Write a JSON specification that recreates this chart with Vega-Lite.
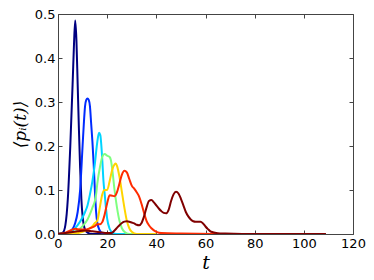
{
  "$schema": "https://vega.github.io/schema/vega-lite/v6.json",
  "autosize": {"type": "none"},
  "padding": {"left": 58, "top": 14, "right": 21, "bottom": 46},
  "width": 295,
  "height": 220,
  "config": {
    "view": {"stroke": "#444", "strokeWidth": 1},
    "axis": {"grid": false, "domain": false, "tickColor": "#444", "tickSize": -4, "labelFont": "DejaVu Sans", "labelFontSize": 13, "labelColor": "#000", "labelFlush": false, "labelOverlap": false}
  },
  "data": {"values": [
    {"s":1,"t":0,"p":0},{"s":1,"t":1,"p":0.001},{"s":1,"t":2,"p":0.003},{"s":1,"t":3,"p":0.02},{"s":1,"t":4,"p":0.08},{"s":1,"t":5,"p":0.2},{"s":1,"t":6,"p":0.35},{"s":1,"t":6.5,"p":0.43},{"s":1,"t":7,"p":0.485},{"s":1,"t":7.5,"p":0.44},{"s":1,"t":8,"p":0.34},{"s":1,"t":8.5,"p":0.24},{"s":1,"t":9,"p":0.15},{"s":1,"t":9.5,"p":0.08},{"s":1,"t":10,"p":0.04},{"s":1,"t":10.5,"p":0.02},{"s":1,"t":11,"p":0.01},{"s":1,"t":12,"p":0.003},{"s":1,"t":14,"p":0},{"s":1,"t":20,"p":0},
    {"s":2,"t":0,"p":0},{"s":2,"t":4,"p":0.003},{"s":2,"t":6,"p":0.012},{"s":2,"t":7,"p":0.025},{"s":2,"t":8,"p":0.05},{"s":2,"t":9,"p":0.1},{"s":2,"t":10,"p":0.2},{"s":2,"t":10.5,"p":0.25},{"s":2,"t":11,"p":0.29},{"s":2,"t":11.5,"p":0.305},{"s":2,"t":12,"p":0.308},{"s":2,"t":12.5,"p":0.305},{"s":2,"t":13,"p":0.29},{"s":2,"t":13.5,"p":0.25},{"s":2,"t":14,"p":0.21},{"s":2,"t":14.5,"p":0.16},{"s":2,"t":15,"p":0.1},{"s":2,"t":15.5,"p":0.05},{"s":2,"t":16,"p":0.025},{"s":2,"t":17,"p":0.008},{"s":2,"t":18,"p":0.002},{"s":2,"t":20,"p":0},{"s":2,"t":25,"p":0},
    {"s":3,"t":0,"p":0},{"s":3,"t":4,"p":0.002},{"s":3,"t":6,"p":0.008},{"s":3,"t":8,"p":0.02},{"s":3,"t":10,"p":0.038},{"s":3,"t":11,"p":0.05},{"s":3,"t":12,"p":0.065},{"s":3,"t":13,"p":0.09},{"s":3,"t":14,"p":0.12},{"s":3,"t":15,"p":0.16},{"s":3,"t":16,"p":0.21},{"s":3,"t":16.7,"p":0.23},{"s":3,"t":17.2,"p":0.225},{"s":3,"t":18,"p":0.17},{"s":3,"t":18.5,"p":0.12},{"s":3,"t":19,"p":0.09},{"s":3,"t":19.5,"p":0.06},{"s":3,"t":20,"p":0.035},{"s":3,"t":21,"p":0.012},{"s":3,"t":22,"p":0.004},{"s":3,"t":24,"p":0},{"s":3,"t":30,"p":0},
    {"s":4,"t":0,"p":0},{"s":4,"t":6,"p":0.003},{"s":4,"t":8,"p":0.008},{"s":4,"t":10,"p":0.018},{"s":4,"t":12,"p":0.033},{"s":4,"t":13,"p":0.045},{"s":4,"t":14,"p":0.06},{"s":4,"t":15,"p":0.075},{"s":4,"t":15.5,"p":0.09},{"s":4,"t":16,"p":0.115},{"s":4,"t":17,"p":0.15},{"s":4,"t":18,"p":0.175},{"s":4,"t":19,"p":0.182},{"s":4,"t":20,"p":0.178},{"s":4,"t":21,"p":0.175},{"s":4,"t":21.5,"p":0.168},{"s":4,"t":22,"p":0.15},{"s":4,"t":23,"p":0.1},{"s":4,"t":24,"p":0.06},{"s":4,"t":25,"p":0.03},{"s":4,"t":26,"p":0.013},{"s":4,"t":27,"p":0.005},{"s":4,"t":29,"p":0},{"s":4,"t":35,"p":0},
    {"s":5,"t":0,"p":0},{"s":5,"t":8,"p":0.002},{"s":5,"t":10,"p":0.005},{"s":5,"t":12,"p":0.01},{"s":5,"t":14,"p":0.018},{"s":5,"t":15,"p":0.025},{"s":5,"t":16,"p":0.03},{"s":5,"t":17,"p":0.06},{"s":5,"t":18,"p":0.09},{"s":5,"t":19,"p":0.1},{"s":5,"t":20,"p":0.1},{"s":5,"t":21,"p":0.12},{"s":5,"t":22,"p":0.145},{"s":5,"t":23,"p":0.158},{"s":5,"t":23.5,"p":0.16},{"s":5,"t":24,"p":0.155},{"s":5,"t":25,"p":0.13},{"s":5,"t":26,"p":0.095},{"s":5,"t":27,"p":0.06},{"s":5,"t":28,"p":0.03},{"s":5,"t":29,"p":0.013},{"s":5,"t":30,"p":0.005},{"s":5,"t":32,"p":0},{"s":5,"t":40,"p":0},
    {"s":6,"t":0,"p":0},{"s":6,"t":3,"p":0.003},{"s":6,"t":5,"p":0.008},{"s":6,"t":7,"p":0.012},{"s":6,"t":9,"p":0.01},{"s":6,"t":11,"p":0.01},{"s":6,"t":13,"p":0.013},{"s":6,"t":15,"p":0.018},{"s":6,"t":16,"p":0.022},{"s":6,"t":17,"p":0.022},{"s":6,"t":18,"p":0.027},{"s":6,"t":19,"p":0.045},{"s":6,"t":20,"p":0.07},{"s":6,"t":21,"p":0.088},{"s":6,"t":22,"p":0.087},{"s":6,"t":23,"p":0.086},{"s":6,"t":24,"p":0.095},{"s":6,"t":25,"p":0.115},{"s":6,"t":26,"p":0.135},{"s":6,"t":27,"p":0.144},{"s":6,"t":28,"p":0.14},{"s":6,"t":29,"p":0.125},{"s":6,"t":30,"p":0.11},{"s":6,"t":31,"p":0.103},{"s":6,"t":32,"p":0.095},{"s":6,"t":33,"p":0.085},{"s":6,"t":34,"p":0.068},{"s":6,"t":35,"p":0.048},{"s":6,"t":36,"p":0.03},{"s":6,"t":37,"p":0.02},{"s":6,"t":38,"p":0.013},{"s":6,"t":40,"p":0.005},{"s":6,"t":42,"p":0.002},{"s":6,"t":50,"p":0.001},{"s":6,"t":70,"p":0},
    {"s":7,"t":0,"p":0},{"s":7,"t":4,"p":0.003},{"s":7,"t":8,"p":0.006},{"s":7,"t":11,"p":0.008},{"s":7,"t":14,"p":0.006},{"s":7,"t":17,"p":0.004},{"s":7,"t":20,"p":0.002},{"s":7,"t":22,"p":0.003},{"s":7,"t":23,"p":0.008},{"s":7,"t":24,"p":0.014},{"s":7,"t":25,"p":0.02},{"s":7,"t":26,"p":0.025},{"s":7,"t":27,"p":0.028},{"s":7,"t":28,"p":0.029},{"s":7,"t":29,"p":0.028},{"s":7,"t":30,"p":0.026},{"s":7,"t":31,"p":0.024},{"s":7,"t":32,"p":0.021},{"s":7,"t":33,"p":0.02},{"s":7,"t":34,"p":0.025},{"s":7,"t":35,"p":0.04},{"s":7,"t":36,"p":0.06},{"s":7,"t":37,"p":0.075},{"s":7,"t":38,"p":0.077},{"s":7,"t":39,"p":0.072},{"s":7,"t":40,"p":0.065},{"s":7,"t":41,"p":0.058},{"s":7,"t":42,"p":0.052},{"s":7,"t":43,"p":0.048},{"s":7,"t":44,"p":0.047},{"s":7,"t":45,"p":0.055},{"s":7,"t":46,"p":0.075},{"s":7,"t":47,"p":0.09},{"s":7,"t":48,"p":0.096},{"s":7,"t":49,"p":0.092},{"s":7,"t":50,"p":0.08},{"s":7,"t":51,"p":0.065},{"s":7,"t":52,"p":0.05},{"s":7,"t":53,"p":0.04},{"s":7,"t":54,"p":0.033},{"s":7,"t":55,"p":0.029},{"s":7,"t":56,"p":0.028},{"s":7,"t":57,"p":0.028},{"s":7,"t":58,"p":0.028},{"s":7,"t":59,"p":0.024},{"s":7,"t":60,"p":0.017},{"s":7,"t":61,"p":0.011},{"s":7,"t":62,"p":0.006},{"s":7,"t":63,"p":0.004},{"s":7,"t":65,"p":0.002},{"s":7,"t":68,"p":0.001},{"s":7,"t":75,"p":0},{"s":7,"t":109,"p":0}
  ]},
  "resolve": {"axis": {"x": "independent", "y": "independent"}},
  "layer": [
    {
      "mark": {"type": "line", "strokeWidth": 2, "interpolate": "monotone", "clip": true},
      "encoding": {
        "x": {"field": "t", "type": "quantitative", "scale": {"domain": [0, 120], "nice": false},
          "axis": {"orient": "bottom", "values": [0,20,40,60,80,100,120], "labelPadding": 7, "title": "t", "titleFont": "DejaVu Serif", "titleFontStyle": "italic", "titleFontWeight": "normal", "titleFontSize": 19, "titlePadding": 3}},
        "y": {"field": "p", "type": "quantitative", "scale": {"domain": [0, 0.5], "nice": false},
          "axis": {"orient": "left", "values": [0,0.1,0.2,0.3,0.4,0.5], "format": ".1f", "labelPadding": 7, "title": "⟨pᵢ(t)⟩", "titleFont": "DejaVu Serif", "titleFontStyle": "italic", "titleFontWeight": "normal", "titleFontSize": 17, "titlePadding": 5}},
        "color": {"field": "s", "type": "nominal", "legend": null,
          "scale": {"domain": [1,2,3,4,5,6,7], "range": ["#000080", "#002bff", "#00d4ff", "#7fff7f", "#ffd400", "#ff2b00", "#800000"]}},
        "order": {"field": "t", "type": "quantitative"}
      }
    },
    {
      "mark": {"type": "line", "opacity": 0},
      "encoding": {
        "x": {"field": "t", "type": "quantitative", "axis": {"orient": "top", "values": [0,20,40,60,80,100,120], "labels": false, "title": null}},
        "y": {"field": "p", "type": "quantitative", "axis": {"orient": "right", "values": [0,0.1,0.2,0.3,0.4,0.5], "labels": false, "title": null}},
        "detail": {"field": "s"}
      }
    }
  ]
}
